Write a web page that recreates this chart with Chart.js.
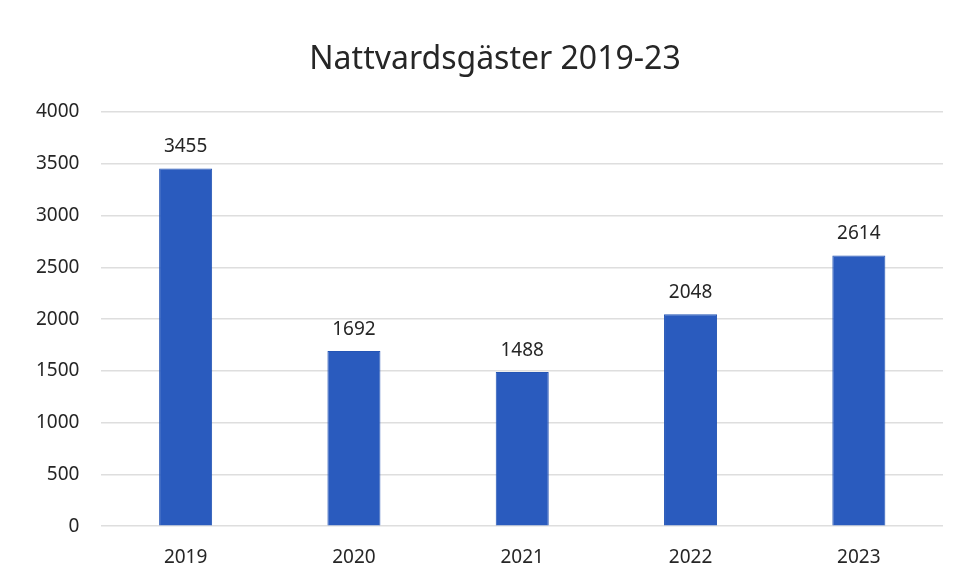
<!DOCTYPE html>
<html>
<head>
<meta charset="utf-8">
<script src="https://cdn.jsdelivr.net/npm/chart.js@4"></script>
<style>
  html, body { margin: 0; padding: 0; background: #fff; }
  #wrap { width: 963px; height: 582px; }
</style>
</head>
<body>
<div id="wrap"><canvas id="chart" width="963" height="582"></canvas></div>
<script>
/* Chart data */
const years = ['2019', '2020', '2021', '2022', '2023'];
const guests = [3455, 1692, 1488, 2048, 2614];
const yTicks = [0, 500, 1000, 1500, 2000, 2500, 3000, 3500, 4000];
const titleText = 'Nattvardsgäster 2019-23';

const FONT = "'Noto Sans', sans-serif";
const TEXT = '#262626';

/* Draw value labels above each bar, and the title (sits a bit right of canvas centre) */
const valueLabels = {
    id: 'valueLabels',
    afterDatasetsDraw(chart) {
        const ctx = chart.ctx;
        const meta = chart.getDatasetMeta(0);
        ctx.save();
        ctx.font = '19px ' + FONT;
        ctx.fillStyle = TEXT;
        ctx.textAlign = 'center';
        ctx.textBaseline = 'bottom';
        meta.data.forEach((bar, i) => {
            ctx.fillText(String(guests[i]), bar.x, bar.y - 12);
        });
        ctx.font = '32px ' + FONT;
        ctx.textBaseline = 'middle';
        ctx.fillText(titleText, 495, 60);
        ctx.restore();
    }
};

new Chart(document.getElementById('chart'), {
    type: 'bar',
    data: {
        labels: years,
        datasets: [{
            data: guests,
            backgroundColor: '#2A5BBE',
            borderColor: '#2455B5',
            borderWidth: 1,
            categoryPercentage: 1,
            barPercentage: 0.315
        }]
    },
    options: {
        responsive: false,
        animation: false,
        layout: { padding: { left: 14, right: 20, top: 112, bottom: -7 } },
        plugins: {
            legend: { display: false },
            tooltip: { enabled: false },
            title: { display: false }
        },
        scales: {
            x: {
                grid: { display: false, drawTicks: false },
                border: { display: false },
                ticks: { color: TEXT, font: { family: FONT, size: 19 }, padding: 20 }
            },
            y: {
                min: 0,
                max: 4000,
                afterBuildTicks(axis) { axis.ticks = yTicks.map(v => ({ value: v })); },
                grid: { color: '#dedede', lineWidth: 1.5, drawTicks: false },
                border: { display: false },
                ticks: {
                    color: TEXT,
                    font: { family: FONT, size: 19 },
                    padding: 22,
                    callback: v => String(v)
                }
            }
        }
    },
    plugins: [valueLabels]
});
</script>
</body>
</html>
